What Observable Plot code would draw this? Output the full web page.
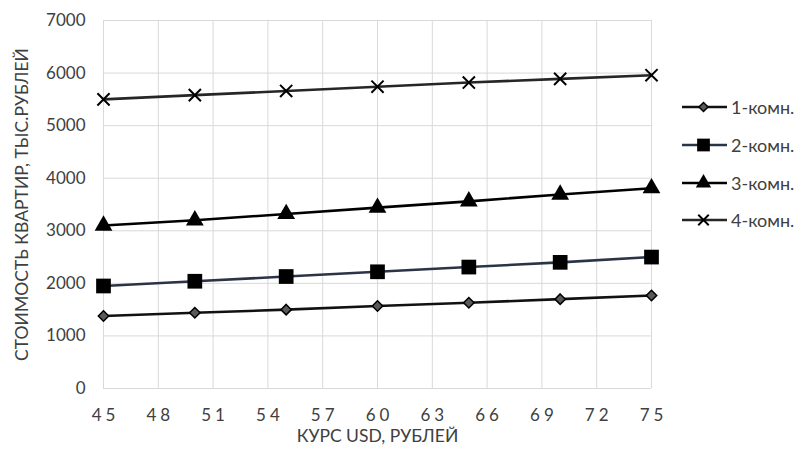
<!DOCTYPE html>
<html>
<head>
<meta charset="utf-8">
<script src="https://cdn.jsdelivr.net/npm/d3@7"></script>
<script src="https://cdn.jsdelivr.net/npm/@observablehq/plot@0.6"></script>
<style>
  body { margin: 0; background: #fff; }
  #chart { position: relative; width: 800px; height: 463px; font-family: Lato, "Open Sans", sans-serif; }
  .leg { position: absolute; left: 682px; height: 20px; display: flex; align-items: center; font-size: 18px; color: #404040; white-space: nowrap; }
  .leg svg { margin-right: 3px; flex: none; }
</style>
</head>
<body>
<div id="chart"></div>
<script>
// ---- data ----
const rates = [45, 50, 55, 60, 65, 70, 75];
const room1 = [1380, 1440, 1500, 1570, 1630, 1700, 1770];
const room2 = [1950, 2040, 2130, 2220, 2310, 2400, 2500];
const room3 = [3100, 3200, 3320, 3440, 3560, 3690, 3810];
const room4 = [5500, 5580, 5660, 5740, 5820, 5890, 5960];
const seriesNames = ["1-комн.", "2-комн.", "3-комн.", "4-комн."];
const xTicks = [45, 48, 51, 54, 57, 60, 63, 66, 69, 72, 75];
const yTicks = [0, 1000, 2000, 3000, 4000, 5000, 6000, 7000];
const xTitle = "КУРС USD, РУБЛЕЙ";
const yTitle = "СТОИМОСТЬ КВАРТИР, ТЫС.РУБЛЕЙ";

// ---- styles ----
const styles = [
  {line: "#111111", symbol: "diamond2", fill: "#595959", stroke: "#000", sw: 1.5, r: 4.7},
  {line: "#2b3446", symbol: "square", fill: "#000", stroke: "none", sw: 0, r: 8.3},
  {line: "#000000", symbol: "triangle", fill: "#000", stroke: "none", sw: 0, r: 6.6},
  {line: "#262626", symbol: "times", fill: "none", stroke: "#000", sw: 2, r: 5.6}
];

const allValues = [room1, room2, room3, room4];
const tables = allValues.map((vals, i) => rates.map((x, j) => ({rate: x, value: vals[j], series: seriesNames[i]})));

const marks = [
  Plot.gridX(xTicks, {stroke: "#d9d9d9", strokeOpacity: 1, strokeWidth: 1}),
  Plot.gridY(yTicks, {stroke: "#d9d9d9", strokeOpacity: 1, strokeWidth: 1}),
  Plot.axisX(xTicks, {tickSize: 0, tickPadding: 20, label: null, fontSize: 17, tickFormat: d3.format("d")}),
  Plot.axisY(yTicks, {tickSize: 0, tickPadding: 18, label: null, fontSize: 17, tickFormat: d3.format("d")}),
  Plot.text([xTitle], {frameAnchor: "bottom", dy: 53, fontSize: 17.5, fill: "#404040", textAnchor: "middle"}),
  Plot.text([yTitle], {frameAnchor: "left", dx: -81, rotate: -90, fontSize: 17.5, fill: "#404040", textAnchor: "middle"})
];
tables.forEach((t, i) => {
  const s = styles[i];
  marks.push(Plot.line(t, {x: "rate", y: "value", stroke: s.line, strokeWidth: 2.6}));
});
tables.forEach((t, i) => {
  const s = styles[i];
  marks.push(Plot.dot(t, {x: "rate", y: "value", symbol: () => s.symbol, r: s.r, fill: s.fill, stroke: s.stroke, strokeWidth: s.sw}));
});

const chart = Plot.plot({
  width: 800,
  height: 463,
  marginLeft: 103,
  marginRight: 149,
  marginTop: 20,
  marginBottom: 75,
  style: {fontFamily: "Lato, 'Open Sans', sans-serif", fontSize: "17px", color: "#404040", background: "white", overflow: "visible"},
  x: {domain: [45, 75]},
  y: {domain: [0, 7000]},
  symbol: {type: "identity"},
  marks
});

// letter-spaced x tick labels, as in the original
chart.querySelectorAll('[aria-label="x-axis tick label"] text').forEach(t => {
  t.style.letterSpacing = "4px";
  t.setAttribute("dx", "2");
});

const root = document.getElementById("chart");
root.appendChild(chart);

// ---- legend ----
const symMap = {diamond2: d3.symbolDiamond2, square: d3.symbolSquare, triangle: d3.symbolTriangle, times: d3.symbolTimes};
const legTops = [107, 145, 183, 220];
seriesNames.forEach((name, i) => {
  const s = styles[i];
  const div = document.createElement("div");
  div.className = "leg";
  div.style.top = (legTops[i] - 10) + "px";
  const svg = d3.create("svg").attr("width", 46).attr("height", 20);
  svg.append("line").attr("x1", 0).attr("x2", 45).attr("y1", 10).attr("y2", 10)
    .attr("stroke", s.line).attr("stroke-width", 2.6);
  svg.append("path")
    .attr("d", d3.symbol(symMap[s.symbol], Math.PI * s.r * s.r * 0.75)())
    .attr("transform", "translate(21.5,10)")
    .attr("fill", s.fill).attr("stroke", s.stroke).attr("stroke-width", s.sw);
  div.appendChild(svg.node());
  const span = document.createElement("span");
  span.textContent = name;
  div.appendChild(span);
  root.appendChild(div);
});
</script>
</body>
</html>
